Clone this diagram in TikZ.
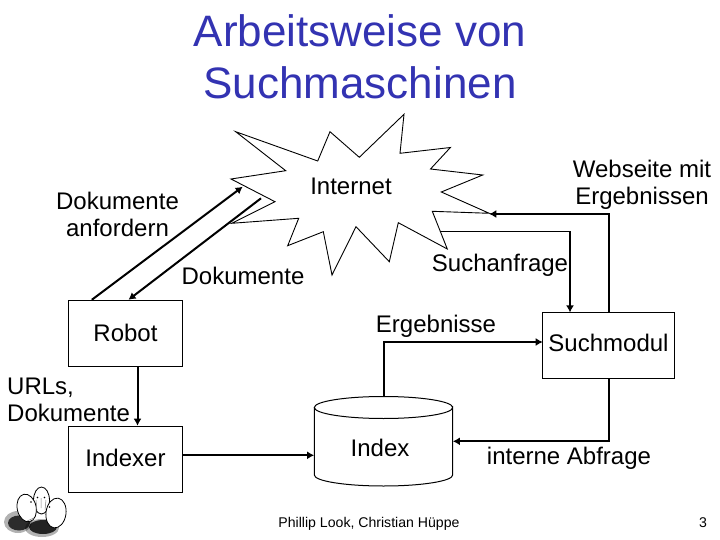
\documentclass[tikz,border=0pt]{standalone}
\usepackage{fontspec}
\setmainfont{Liberation Sans}
\usetikzlibrary{arrows.meta,calc}
\definecolor{titleblue}{RGB}{51,51,178}
\tikzset{
  txt/.style={font=\fontsize{24}{27}\selectfont,align=center,inner sep=0pt,text=black},
  small/.style={font=\fontsize{14.1}{17}\selectfont,inner sep=0pt,text=black},
  titletxt/.style={font=\fontsize{44}{52}\selectfont,align=center,inner sep=0pt,text=titleblue},
  boxn/.style={draw=black,line width=1pt,inner sep=0pt,minimum width=114.4pt,minimum height=66pt,txt},
  conn/.style={line width=2pt,draw=black},
  arr/.style={conn,-{Latex[length=7pt,width=8pt]}},
  arrthin/.style={line width=1.3pt,draw=black,-{Latex[length=7pt,width=8pt]}},
  thin/.style={draw=black,line width=1pt},
  egg/.style={draw=black,line width=.8pt,fill=white},
  shad/.style={fill=black,draw=none}
}
\begin{document}
\begin{tikzpicture}[x=1pt,y=-1pt]
\useasboundingbox (0,0) rectangle (720,540);
\fill[white] (0,0) rectangle (720,540);
\node[titletxt] (title) at (360,56.5) {Arbeitsweise von\\Suchmaschinen};
% star
\draw[thin,line join=miter,line width=.9pt] (235.7,131.7)--(317.7,161)--(330,131.7)--(359.3,157.3)--(404,114.3)--(400,153.3)--(450.4,147.5)--(430.5,169)--(482.7,175)--(441.3,192)--(489.3,213.3)--(432.3,211.3)--(447.3,249)--(398.3,222.7)--(389.3,261.7)--(356,226.7)--(332,275)--(323.3,231.7)--(287.7,245.7)--(298.7,218.3)--(231.7,223.3)--(275,201.7)--(231,179)--(285.7,170.7)--cycle;
\coordinate (starin) at (242.7,186.7);
\coordinate (starout) at (261,198.3);
\coordinate (starright) at (489.3,214);
\coordinate (starlow) at (439.7,231.5);
\node[txt] (internet) at (351,186) {Internet};
\node[txt] (anf) at (117.5,214) {Dokumente\\anfordern};
\node[txt] (dok) at (243,276) {Dokumente};
\node[txt] (such) at (500,265.5) {Suchanfrage};
\node[txt] (web) at (642,184.5) {Webseite mit\\Ergebnissen};
\node[txt] (erg) at (436,326) {Ergebnisse};
\node[boxn] (robot) at (125.5,333.3) {Robot};
\node[boxn] (indexer) at (125.5,459.2) {\raisebox{3pt}{Indexer}};
\node[boxn,minimum width=131.6pt] (suchmodul) at (608.5,345.4) {\raisebox{4.5pt}{Suchmodul}};
\node[txt,align=left,anchor=west] (urls) at (7,400) {URLs,\\Dokumente};
\node[txt] (iabf) at (569,458.5) {interne Abfrage};
\node[small] (auth) at (369,523.5) {Phillip Look, Christian Hüppe};
\node[small] (page) at (703,522.5) {3};
% cylinder
\node[inner sep=0pt,minimum width=138.4pt,minimum height=89.3pt] (cyl) at (383.5,441.3) {};
\draw[thin] (314.3,407.5) -- (314.3,475) arc[start angle=180,end angle=0,x radius=69.2,y radius=11] -- (452.7,407.5) arc[start angle=0,end angle=360,x radius=69.2,y radius=11];
\node[txt] (index) at (380,448) {Index};
% connectors
\coordinate (robotA) at ($(robot.north west)+(24,0)$);
\coordinate (robotB) at ($(robot.north west)+(60.7,0)$);
\coordinate (robotC) at ($(robot.south west)+(69.7,0)$);
\coordinate (indexerC) at ($(indexer.north west)+(69.7,0)$);
\coordinate (indexerE) at ($(indexer.east)+(0,-3.9)$);
\coordinate (cylW) at ($(cyl.west)+(0,14)$);
\coordinate (cylN) at (384,396.7);
\coordinate (smT) at (570,312.4);
\coordinate (smT2) at (608.7,312.4);
\coordinate (smB) at (608.7,378.4);
\coordinate (smW) at (542.7,342);
\draw[arr] (robotA) -- (starin);
\draw[arr] (starout) -- (robotB);
\draw[arr] (robotC) -- (indexerC);
\draw[arr] (indexerE) -- (cylW);
\draw[arr] (cylN) |- (smW);
\draw[arr] (smB) |- (cyl.east);
\draw[arr] (smT2) |- (starright);
\draw[arrthin] (starlow) -| (smT);
% eggs
\begin{scope}
\fill[shad,opacity=.3] (18,522) ellipse (14 and 11);
\fill[shad,opacity=.75] (19,523) ellipse (11 and 7.5);
\fill[shad,opacity=.3] (42,528) ellipse (17 and 9);
\fill[shad,opacity=.8] (43,527) ellipse (14 and 7);
\draw[egg] (41.5,500.5) ellipse (8 and 13.5);
\draw[egg,rotate around={12:(26.7,508)}] (26.7,508) ellipse (9.5 and 14);
\draw[egg,rotate around={-8:(56,513)}] (56,513) ellipse (10 and 15);
\fill (37.5,497.5) circle (.9) (44.5,497.5) circle (.9) (31,502) circle (.8) (49.5,507) circle (.9);
\draw[line width=.5pt,gray] (41,498)--(41,508) (36,500)--(37,512) (46,500)--(45,510) (34,518)--(27,521);
\end{scope}
\end{tikzpicture}
\end{document}
